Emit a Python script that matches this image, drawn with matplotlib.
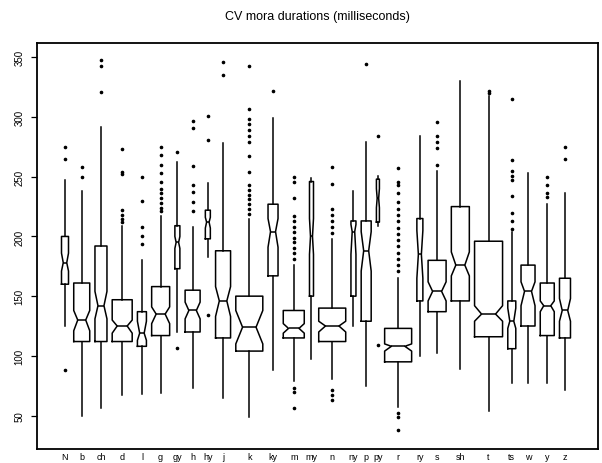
import numpy as np
import matplotlib.pyplot as plt

plt.rcParams['font.family'] = ['Liberation Sans', 'DejaVu Sans']

# ── Data (milliseconds) ──────────────────────────────────────────────────────
labels = ['N', 'b', 'ch', 'd', 'l', 'g', 'gy', 'h', 'hy', 'j', 'k', 'ky', 'm', 'my',
          'n', 'ny', 'p', 'py', 'r', 'ry', 's', 'sh', 't', 'ts', 'w', 'y', 'z']

whislo = [125, 50, 56, 67, 68, 69, 120, 73, 183, 65, 49, 88, 79, 97,
          81, 125, 75, 209, 57, 100, 102, 89, 54, 77, 77, 77, 71]
q1     = [160, 112, 112, 112, 108, 117, 173, 120, 198, 115, 104, 167, 115, 150,
          112, 150, 129, 212, 95, 146, 137, 146, 116, 106, 125, 117, 115]
med    = [178, 130, 142, 125, 119, 135, 195, 138, 212, 146, 124, 204, 123, 200,
          125, 204, 188, 232, 108, 185, 154, 176, 135, 129, 154, 142, 138]
q3     = [200, 161, 192, 147, 137, 158, 209, 155, 222, 188, 150, 227, 138, 246,
          140, 213, 213, 248, 123, 215, 180, 225, 196, 146, 176, 161, 165]
whishi = [247, 238, 292, 209, 180, 217, 262, 208, 245, 278, 215, 299, 176, 249,
          198, 238, 279, 251, 165, 284, 255, 330, 318, 204, 253, 227, 236]
ci_lo  = [171, 121, 131, 119, 113, 127, 190, 131, 207, 133, 110, 191, 119, 185,
          120, 185, 171, 224, 104, 165, 146, 167, 129, 123, 142, 137, 129]
ci_hi  = [186, 138, 154, 130, 129, 141, 200, 145, 216, 158, 138, 215, 127, 215,
          129, 210, 204, 240, 110, 205, 162, 187, 142, 140, 162, 146, 148]

outliers = [
    [275, 265, 88],                                               # N
    [258, 250],                                                   # b
    [348, 343, 321],                                              # ch
    [273, 254, 252, 222, 218, 215, 212],                          # d
    [250, 230, 208, 200, 194],                                    # l
    [275, 268, 260, 253, 246, 240, 236, 232, 228, 224, 221],      # g
    [271, 107],                                                   # gy
    [297, 291, 259, 243, 237, 229, 221],                          # h
    [301, 281, 134],                                              # hy
    [346, 335],                                                   # j
    [343, 307, 298, 294, 289, 284, 279, 267, 254,
     243, 239, 235, 231, 227, 223, 219],                          # k
    [322],                                                        # ky
    [250, 246, 232, 217, 213, 208, 204, 199, 195, 190, 186, 181,
     73, 70, 56],                                                 # m
    [],                                                           # my
    [258, 244, 223, 218, 213, 208, 203, 71, 67, 63],              # n
    [],                                                           # ny
    [344],                                                        # p
    [284, 109],                                                   # py
    [257, 246, 243, 236, 229, 223, 218, 213, 207, 202, 197, 192,
     186, 181, 176, 171, 52, 49, 38],                             # r
    [],                                                           # ry
    [296, 284, 279, 274, 260],                                    # s
    [],                                                           # sh
    [322, 320],                                                   # t
    [315, 264, 255, 251, 247, 234, 220, 213, 206],                # ts
    [],                                                           # w
    [250, 243, 236, 233],                                         # y
    [275, 265],                                                   # z
]

# ── Layout: box widths in pixels (variable width), constant gap ──────────────
box_widths = [7, 16, 12, 20, 9, 18, 5, 15, 5, 15, 27, 10, 21, 4, 27, 5, 10, 3,
              27, 6, 18, 18, 28, 8, 14, 14, 11]
GAP = 5.23
FIRST = 28

positions = [FIRST]
for a, b in zip(box_widths[:-1], box_widths[1:]):
    positions.append(positions[-1] + (a + b) / 2 + GAP)

stats = []
for i, lab in enumerate(labels):
    stats.append(dict(label=lab, whislo=whislo[i], q1=q1[i], med=med[i], q3=q3[i],
                      whishi=whishi[i], cilo=ci_lo[i], cihi=ci_hi[i],
                      fliers=outliers[i]))

# ── Plot ─────────────────────────────────────────────────────────────────────
fig = plt.figure(figsize=(6.02, 4.64), dpi=100)
ax = fig.add_axes([37 / 602, 14 / 464, 561 / 602, 406 / 464])

line = dict(color='black', linewidth=1.1)
ax.bxp(stats, positions=positions, widths=box_widths, shownotches=True,
       showcaps=False, patch_artist=False,
       boxprops=line, whiskerprops=line, medianprops=line,
       flierprops=dict(marker='o', markersize=1.6, markerfacecolor='black',
                       markeredgecolor='black', linestyle='none'))

ax.set_xlim(0, 561)
ax.set_ylim(22, 362)

ax.set_yticks([50, 100, 150, 200, 250, 300, 350])
ax.set_yticklabels(['50', '100', '150', '200', '250', '300', '350'],
                   rotation=90, va='center', fontsize=7)
ax.tick_params(axis='y', length=4, width=0.9, pad=5)
ax.set_xticks(positions)
ax.set_xticklabels(labels, fontsize=6.5)
ax.tick_params(axis='x', length=0, pad=2)

for sp in ax.spines.values():
    sp.set_linewidth(1.3)

fig.text(317.5 / 602, 1 - 17 / 464, 'CV mora durations (milliseconds)',
         ha='center', va='center', fontsize=9)

fig.savefig('out.png', dpi=100)
